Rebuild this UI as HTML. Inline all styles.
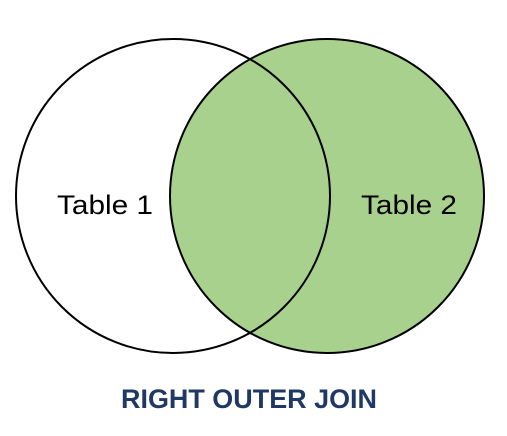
<!DOCTYPE html>
<html><head><style>html,body{margin:0;padding:0;background:#fff;width:507px;height:436px;overflow:hidden}</style></head>
<body>
<svg width="507" height="436" viewBox="0 0 507 436" xmlns="http://www.w3.org/2000/svg">
<circle cx="327" cy="196" r="157" fill="#a9d18e" stroke="#000" stroke-width="2"/>
<circle cx="173" cy="196" r="157" fill="none" stroke="#000" stroke-width="2"/>
<text x="57" y="214" font-family="Liberation Sans, sans-serif" font-size="27" fill="#000" textLength="96" lengthAdjust="spacingAndGlyphs">Table 1</text>
<text x="361" y="214" font-family="Liberation Sans, sans-serif" font-size="27" fill="#000" textLength="96" lengthAdjust="spacingAndGlyphs">Table 2</text>
<text x="121" y="408" font-family="Liberation Sans, sans-serif" font-weight="bold" font-size="27" fill="#203864" textLength="256" lengthAdjust="spacingAndGlyphs">RIGHT OUTER JOIN</text>
</svg>
</body></html>
